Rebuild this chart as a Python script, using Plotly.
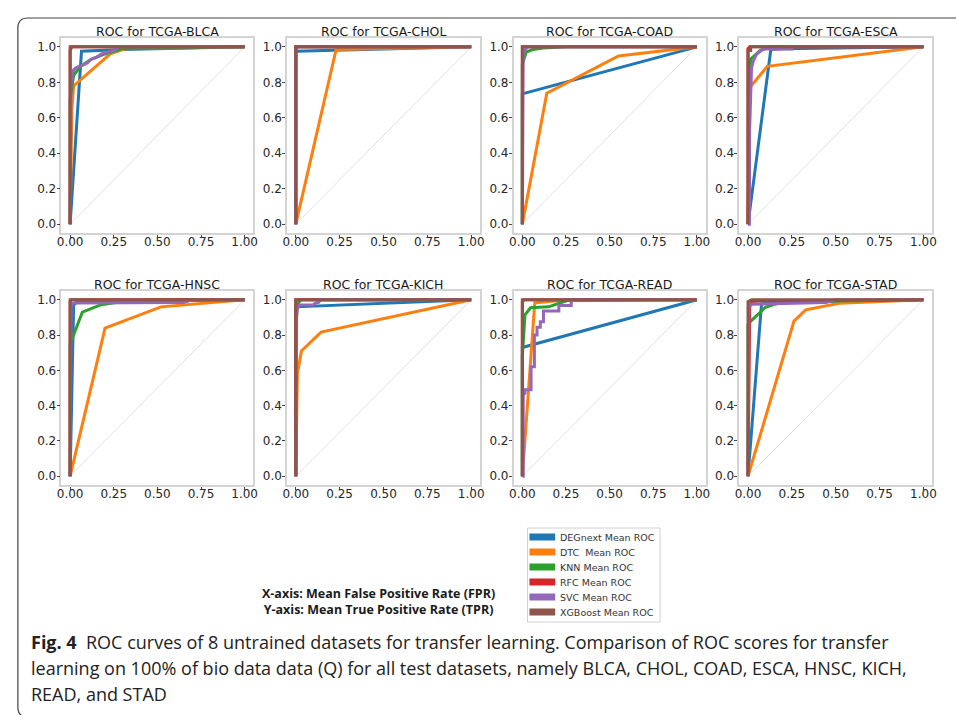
import plotly.graph_objects as go

# ---------------- data ----------------
datasets = ["TCGA-BLCA", "TCGA-CHOL", "TCGA-COAD", "TCGA-ESCA",
            "TCGA-HNSC", "TCGA-KICH", "TCGA-READ", "TCGA-STAD"]
models = ["DEGnext Mean ROC", "DTC\u00a0 Mean ROC", "KNN Mean ROC",
          "RFC Mean ROC", "SVC Mean ROC", "XGBoost Mean ROC"]
colors = ["#1f77b4", "#ff7f0e", "#2ca02c", "#d62728", "#9467bd", "#8c564b"]

x_tickvals = [0.0, 0.25, 0.5, 0.75, 1.0]
x_ticktext = ["0.00", "0.25", "0.50", "0.75", "1.00"]
y_tickvals = [0.0, 0.2, 0.4, 0.6, 0.8, 1.0]
y_ticktext = ["0.0", "0.2", "0.4", "0.6", "0.8", "1.0"]

# each entry: (mean FPR list, mean TPR list), in model order
BLCA = [
    ([0, 0.065, 0.3, 1], [0, 0.975, 0.985, 1]),
    ([0, 0.01, 0.02, 0.23, 0.32, 1], [0, 0.65, 0.78, 0.96, 0.99, 1]),
    ([0, 0, 0.02, 0.06, 0.12, 0.2, 0.3, 1], [0, 0.7, 0.84, 0.89, 0.93, 0.96, 0.99, 1]),
    ([0, 0, 0.01, 1], [0, 0.98, 1, 1]),
    ([0, 0.005, 0.01, 0.02, 0.03, 0.05, 0.08, 0.1, 0.12, 0.15, 0.18, 0.22, 0.25, 0.28, 1],
     [0, 0.8, 0.84, 0.87, 0.88, 0.89, 0.9, 0.91, 0.93, 0.94, 0.96, 0.97, 0.98, 1.0, 1]),
    ([0, 0, 1], [0, 1, 1]),
]
CHOL = [
    ([0, 0, 1], [0, 0.975, 1]),
    ([0, 0.23, 1], [0, 0.985, 1]),
    ([0, 0, 1], [0, 1, 1]),
    ([0, 0, 1], [0, 1, 1]),
    ([0, 0, 0.01, 1], [0, 0.99, 1, 1]),
    ([0, 0, 1], [0, 1, 1]),
]
COAD = [
    ([0, 0, 1], [0, 0.735, 1]),
    ([0, 0.14, 0.551, 1], [0, 0.739, 0.949, 1]),
    ([0, 0, 0.022, 0.06, 0.12, 0.25, 1], [0, 0.9, 0.97, 0.985, 0.993, 1.0, 1]),
    ([0, 0, 1], [0, 1, 1]),
    ([0, 0.005, 0.03, 1], [0, 0.97, 1.0, 1]),
    ([0, 0, 1], [0, 1, 1]),
]
ESCA = [
    ([0, 0.13, 0.2, 1], [0, 0.985, 0.99, 1]),
    ([0, 0.01, 0.11, 1], [0, 0.77, 0.89, 1]),
    ([0, 0.005, 0.01, 0.015, 0.03, 0.05, 0.07, 0.1, 0.13, 1],
     [0, 0.45, 0.85, 0.93, 0.945, 0.96, 0.98, 0.99, 1.0, 1]),
    ([0, 0, 0.01, 1], [0, 0.99, 1.0, 1]),
    ([0, 0.008, 0.009, 0.015, 0.02, 0.03, 0.04, 0.05, 0.07, 0.09, 0.25, 0.25, 1],
     [0, 0.0, 0.52, 0.8, 0.88, 0.92, 0.94, 0.96, 0.975, 0.988, 0.988, 1.0, 1]),
    ([0, 0, 0.015, 0.015, 1], [0, 0.98, 0.98, 1, 1]),
]
HNSC = [
    ([0, 0.02, 0.04, 1], [0, 0.97, 0.99, 1]),
    ([0, 0.2, 0.52, 1], [0, 0.84, 0.96, 1]),
    ([0, 0, 0.07, 0.17, 0.3, 0.5, 1], [0, 0.75, 0.93, 0.97, 0.99, 1.0, 1]),
    ([0, 0, 0.01, 1], [0, 0.99, 1, 1]),
    ([0, 0.005, 0.02, 0.65, 0.7, 1], [0, 0.97, 0.982, 0.985, 1.0, 1]),
    ([0, 0, 1], [0, 1, 1]),
]
KICH = [
    ([0, 0, 1], [0, 0.96, 1]),
    ([0, 0.009, 0.032, 0.144, 1], [0, 0.58, 0.71, 0.817, 1]),
    ([0, 0, 0.01, 0.02, 0.03, 1], [0, 0.96, 0.97, 0.99, 1.0, 1]),
    ([0, 0, 1], [0, 1, 1]),
    ([0, 0.005, 0.01, 0.02, 0.1, 0.11, 0.13, 0.14, 1],
     [0, 0.9, 0.95, 0.97, 0.97, 0.98, 0.985, 1.0, 1]),
    ([0, 0, 1], [0, 1, 1]),
]
READ = [
    ([0, 0, 1], [0, 0.73, 1]),
    ([0, 0.071, 0.2, 1], [0, 0.983, 0.995, 1]),
    ([0, 0, 0.015, 0.047, 0.15, 0.249, 0.27, 1], [0, 0.68, 0.915, 0.955, 0.96, 0.99, 1.0, 1]),
    ([0, 0, 0.01, 1], [0, 0.99, 1, 1]),
    ([0, 0.005, 0.005, 0.015, 0.015, 0.05, 0.05, 0.069, 0.069, 0.084, 0.084, 0.103, 0.103,
      0.121, 0.121, 0.209, 0.209, 0.28, 0.28, 1],
     [0, 0.0, 0.46, 0.47, 0.49, 0.49, 0.62, 0.62, 0.80, 0.80, 0.845, 0.845, 0.875,
      0.875, 0.936, 0.936, 0.968, 0.968, 1.0, 1]),
    ([0, 0, 1], [0, 1, 1]),
]
STAD = [
    ([0, 0.077, 0.15, 1], [0, 0.977, 0.985, 1]),
    ([0, 0.262, 0.329, 0.52, 1], [0, 0.879, 0.943, 0.98, 1]),
    ([0, 0, 0.01, 0.05, 0.1, 0.15, 0.2, 0.3, 1], [0, 0.86, 0.874, 0.91, 0.958, 0.975, 0.985, 0.99, 1]),
    ([0, 0.01, 0.02, 0.1, 1], [0, 0.96, 0.99, 0.995, 1]),
    ([0, 0.005, 0.02, 0.445, 0.5, 1], [0, 0.96, 0.975, 0.985, 1.0, 1]),
    ([0, 0, 0.02, 1], [0, 0.99, 1.0, 1]),
]
panel_curves = [BLCA, CHOL, COAD, ESCA, HNSC, KICH, READ, STAD]

caption_lines = [
    "<b>Fig. 4</b>\u00a0 ROC curves of 8 untrained datasets for transfer learning. Comparison of ROC scores for transfer",
    "learning on 100% of bio data data (Q) for all test datasets, namely BLCA, CHOL, COAD, ESCA, HNSC, KICH,",
    "READ, and STAD",
]
axis_notes = ["X-axis: Mean False Positive Rate (FPR)", "Y-axis: Mean True Positive Rate (TPR)"]

# ---------------- layout geometry (pixels) ----------------
W, H = 956, 715
col_px = [(57, 251), (285, 480), (514, 708), (742, 937)]
row_px = [(38, 233), (291, 485)]


def px(x):
    return x / W


def py(y):
    return 1 - y / H


fig = go.Figure()
layout_axes = {}
annotations = []

for i, (name, curves) in enumerate(zip(datasets, panel_curves)):
    r, c = divmod(i, 4)
    k = i + 1
    xa = "x" if k == 1 else f"x{k}"
    ya = "y" if k == 1 else f"y{k}"
    # diagonal reference line
    fig.add_trace(go.Scatter(x=[0, 1], y=[0, 1], mode="lines", xaxis=xa, yaxis=ya,
                             line=dict(color="#d9d9d9", width=0.8),
                             showlegend=False, hoverinfo="skip"))
    for (fpr, tpr), col, m in zip(curves, colors, models):
        fig.add_trace(go.Scatter(x=fpr, y=tpr, mode="lines", xaxis=xa, yaxis=ya,
                                 line=dict(color=col, width=3),
                                 name=m, showlegend=False, hoverinfo="skip"))
    x0, x1 = col_px[c]
    y0, y1 = row_px[r]
    common = dict(range=[-0.05, 1.05], showgrid=False, zeroline=False,
                  showline=True, mirror=True, linecolor="#d4d4d4", linewidth=1.5,
                  ticks="outside", ticklen=3, tickwidth=1, tickcolor="#444444",
                  tickfont=dict(family="DejaVu Sans", size=12, color="#262626"),
                  fixedrange=True)
    layout_axes["xaxis" if k == 1 else f"xaxis{k}"] = dict(
        domain=[px(x0), px(x1)], anchor=ya, tickvals=x_tickvals, ticktext=x_ticktext,
        ticklabelstandoff=-6, **common)
    layout_axes["yaxis" if k == 1 else f"yaxis{k}"] = dict(
        domain=[py(y1), py(y0)], anchor=xa, tickvals=y_tickvals, ticktext=y_ticktext,
        ticklabelstandoff=-2, **common)
    annotations.append(dict(text=f"ROC for {name}", xref="paper", yref="paper",
                            x=px((x0 + x1) / 2), y=py(y0 - 6), xanchor="center", yanchor="middle",
                            showarrow=False,
                            font=dict(family="DejaVu Sans", size=12.5, color="#1a1a1a")))

# manual legend (patches + labels)
shapes = []
leg_box = (528, 528, 662, 622)
shapes.append(dict(type="rect", xref="paper", yref="paper",
                   x0=px(leg_box[0]), x1=px(leg_box[2]), y0=py(leg_box[3]), y1=py(leg_box[1]),
                   line=dict(color="#d0d0d0", width=1), fillcolor="white", layer="above"))
for j, (m, col) in enumerate(zip(models, colors)):
    yc = 537 + 15 * j
    shapes.append(dict(type="rect", xref="paper", yref="paper",
                       x0=px(530), x1=px(556), y0=py(yc + 3.5), y1=py(yc - 3.5),
                       line=dict(width=0), fillcolor=col, layer="above"))
    annotations.append(dict(text=m, xref="paper", yref="paper", x=px(559), y=py(yc),
                            xanchor="left", yanchor="middle", showarrow=False,
                            font=dict(family="DejaVu Sans", size=9.5, color="#333333")))

annotations.append(dict(text="<br>".join(f"<b>{t}</b>" for t in axis_notes),
                        xref="paper", yref="paper", x=px(377), y=py(601),
                        xanchor="center", yanchor="middle", align="center", showarrow=False,
                        font=dict(family="Open Sans", size=12.5, color="#1a1a1a")))

for j, t in enumerate(caption_lines):
    annotations.append(dict(text=t, xref="paper", yref="paper",
                            x=px(24), y=py(642 + 26 * j), xanchor="left", yanchor="middle",
                            showarrow=False,
                            font=dict(family="Open Sans", size=18, color="#222222")))

# outer rounded frame (open to the right, bottom edge just below the view)
L, T, B, R = 13, 18, 717, 970
rx, ry = 10 / W, 10 / H
path = (f"M {px(R)},{py(T)} L {px(L) + rx},{py(T)} Q {px(L)},{py(T)} {px(L)},{py(T) - ry} "
        f"L {px(L)},{py(B) + ry} Q {px(L)},{py(B)} {px(L) + rx},{py(B)} L {px(R)},{py(B)}")
shapes.append(dict(type="path", xref="paper", yref="paper", path=path,
                   line=dict(color="#444444", width=1.2)))

fig.update_layout(
    width=W, height=H,
    margin=dict(l=0, r=0, t=0, b=0),
    paper_bgcolor="white", plot_bgcolor="white",
    showlegend=False,
    shapes=shapes,
    annotations=annotations,
    **layout_axes,
)

fig.write_html("out.html", config={"displayModeBar": False},
               post_script="document.body.style.margin='0px';document.body.style.overflow='hidden';")
